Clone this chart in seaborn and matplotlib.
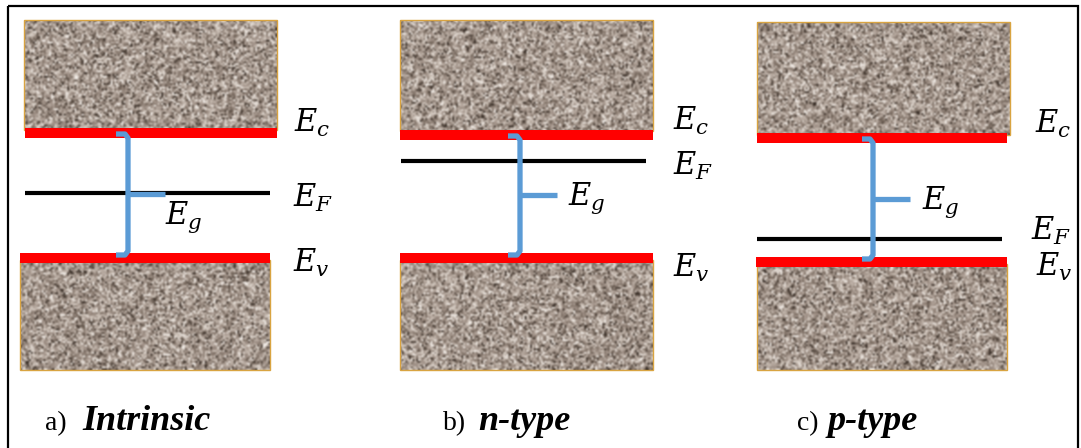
import numpy as np
import matplotlib
matplotlib.use("Agg")
import matplotlib.pyplot as plt
from matplotlib.colors import LinearSegmentedColormap
from matplotlib.patches import Rectangle
import seaborn as sns

# ==========================================
# data: band levels for each doping case (figure units, y grows downward)
# ==========================================
panel_tags = ["a)", "b)", "c)"]
panel_names = ["Intrinsic", "n-type", "p-type"]
ec_level = [133, 135, 138]   # conduction band edge
ev_level = [258, 258, 262]   # valence band edge
ef_level = [193, 161, 239]   # Fermi level

# ==========================================
# layout for each panel (pixels)
# ==========================================
top_block = [(24, 277, 20, 130), (400, 653, 20, 131), (757, 1010, 22, 135)]
bot_block = [(20, 270, 260, 370), (400, 653, 260, 370), (757, 1007, 264, 370)]
ec_span = [(25, 277), (400, 653), (757, 1007)]
ev_span = [(20, 270), (400, 653), (756, 1007)]
ef_span = [(25, 270), (401, 646), (757, 1002)]
bracket_x = [128, 520, 873]
hook_x = [116, 508, 862]
arm_end = [165, 557, 910]
eg_pos = [(165, 224), (568, 205), (922, 209)]
ec_lab = [(294, 132), (673, 130), (1035, 133)]
ef_lab = [(293, 207), (673, 175), (1031, 240)]
ev_lab = [(293, 272), (673, 277), (1036, 276)]
tag_x = [45, 443, 797]
name_x = [82, 478, 828]

sns.set_theme(style="white")
plt.rcParams["mathtext.fontset"] = "dejavuserif"
plt.rcParams["font.family"] = ["DejaVu Sans"]
plt.rcParams["text.color"] = "black"

fig = plt.figure(figsize=(10.81, 4.48), dpi=100)
ax = fig.add_axes([0, 0, 1, 1])

# speckled "band" texture (decoration only, not data)
rng = np.random.default_rng(3)
speckle = LinearSegmentedColormap.from_list(
    "speckle", ["#30261f", "#75675c", "#a3948a", "#cdc2b8", "#f5f0eb"])


def draw_block(x0, x1, y0, y1):
    w, h = int((x1 - x0) / 1.8), int((y1 - y0) / 1.8)
    noise = rng.normal(0.52, 0.27, size=(h, w)).clip(0, 1)
    ax.imshow(noise, cmap=speckle, vmin=0, vmax=1, extent=(x0, x1, y1, y0),
              interpolation="bicubic", zorder=1)
    ax.add_patch(Rectangle((x0, y0), x1 - x0, y1 - y0, fill=False,
                           ec="#d9a441", lw=1.0, zorder=2))


for i in range(3):
    draw_block(*top_block[i])
    draw_block(*bot_block[i])

    ax.hlines(ec_level[i], *ec_span[i], color="#ff0000", lw=7.2, zorder=3)
    ax.hlines(ev_level[i], *ev_span[i], color="#ff0000", lw=7.2, zorder=3)
    ax.hlines(ef_level[i], *ef_span[i], color="black", lw=3.0, zorder=3)

    # band gap bracket
    top, bot = ec_level[i] + 1, ev_level[i] - 3
    xb = bracket_x[i]
    ax.plot([hook_x[i], xb - 3, xb, xb, xb - 3, hook_x[i]],
            [top, top, top + 4, bot - 4, bot, bot],
            color="#5b9bd5", lw=3.8, solid_capstyle="butt",
            solid_joinstyle="round", zorder=4)
    arm_y = (top + bot) / 2
    ax.plot([xb, arm_end[i]], [arm_y, arm_y], color="#5b9bd5", lw=3.8,
            solid_capstyle="butt", zorder=4)

    ax.text(*eg_pos[i], r"$E_g$", fontsize=22, va="baseline", zorder=5)
    ax.text(*ec_lab[i], r"$E_c$", fontsize=22, va="baseline")
    ax.text(*ef_lab[i], r"$E_F$", fontsize=22, va="baseline")
    ax.text(*ev_lab[i], r"$E_v$", fontsize=22, va="baseline")

    ax.text(tag_x[i], 430, panel_tags[i], fontsize=20, va="baseline",
            family="Liberation Serif")
    ax.text(name_x[i], 430, panel_names[i], fontsize=26, va="baseline",
            family="Liberation Serif", weight="bold", style="italic")

# outer frame (bottom edge falls outside the picture)
ax.add_patch(Rectangle((8, 6), 1070, 470, fill=False, ec="black", lw=1.6,
                       zorder=6, clip_on=False))

ax.set_xlim(0, 1081)
ax.set_ylim(448, 0)
ax.set_aspect("auto")
ax.axis("off")

fig.savefig("out.png", dpi=100, facecolor="white")
